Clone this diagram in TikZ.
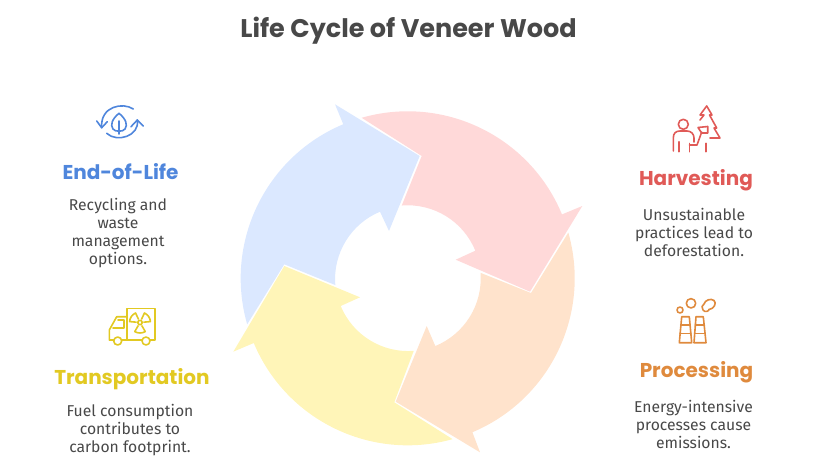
\documentclass[tikz,border=0pt]{standalone}
\usepackage{fontspec}
\usetikzlibrary{calc}
\setmainfont{Fira Sans}
\newfontfamily\headfont{Poppins}
\definecolor{cblue}{HTML}{4F86DC}
\definecolor{cred}{HTML}{E05A57}
\definecolor{corange}{HTML}{DF8A3D}
\definecolor{cyellow}{HTML}{E2C922}
\definecolor{fblue}{HTML}{DBE8FF}
\definecolor{fred}{HTML}{FFD9D9}
\definecolor{forange}{HTML}{FFE3CC}
\definecolor{fyellow}{HTML}{FFF5B8}
\definecolor{ctitle}{HTML}{484848}
\tikzset{
  headtext/.style={font=\headfont\fontsize{20}{24}\selectfont\bfseries,anchor=base,inner sep=0pt},
  desctext/.style={font=\fontsize{15.7}{18}\selectfont,text=ctitle,align=center,anchor=center,inner sep=0pt},
  titletext/.style={font=\headfont\fontsize{25.5}{30}\selectfont\bfseries,text=ctitle,anchor=base,inner sep=0pt},
  iconline/.style={line width=1.6pt,line cap=round,line join=round,fill=none},
}
\begin{document}
\begin{tikzpicture}[x=1pt,y=-1pt]
\useasboundingbox (0,0) rectangle (816,474);
\coordinate (c) at (407.7,278.3);
% arrows
\fill[fblue] (c) ++(196:167pt) arc[start angle=196,end angle=112.7,radius=167pt]
  -- (335,104.3) -- (419.7,156) -- (389,231) -- (380,211.7)
  arc[start angle=112.6,end angle=184.7,radius=73pt]
  -- (284.3,264.3) -- cycle;
\fill[fred] (c) ++(106:167pt) arc[start angle=106,end angle=22.5,radius=167pt]
  -- (582.3,206) -- (530,291.7) -- (455.7,259.7) -- (475.3,250.7)
  arc[start angle=22.2,end angle=94.7,radius=73pt]
  -- (421.7,156) -- cycle;
\fill[forange] (c) ++(15.9:167pt) arc[start angle=15.9,end angle=-67.2,radius=167pt]
  -- (480,452.3) -- (395.7,401.7) -- (426.7,326) -- (435.3,346)
  arc[start angle=-67.8,end angle=4.4,radius=73pt]
  -- (531,293) -- cycle;
\fill[fyellow] (c) ++(285.6:167pt) arc[start angle=285.6,end angle=202.8,radius=167pt]
  -- (233.3,351.7) -- (284.3,266) -- (360,297.3) -- (340.7,306)
  arc[start angle=202.5,end angle=274.4,radius=73pt]
  -- (394.3,402.3) -- cycle;
% text
\node[titletext] (title) at (408.5,37.5) {Life Cycle of Veneer Wood};
\node[headtext,text=cblue] (endh) at (120.5,179.5) {End-of-Life};
\node[desctext] (endd) at (118,233) {Recycling and\\waste\\management\\options.};
\node[headtext,text=cyellow] (trah) at (132,384) {Transportation};
\node[desctext] (trad) at (130,430.5) {Fuel consumption\\contributes to\\carbon footprint.};
\node[headtext,text=cred] (harh) at (696,185.5) {Harvesting};
\node[desctext] (hard) at (694,232) {Unsustainable\\practices lead to\\deforestation.};
\node[headtext,text=corange] (proh) at (696.5,377.5) {Processing};
\node[desctext] (prod) at (693.5,424) {Energy-intensive\\processes cause\\emissions.};
% recycle icon
\begin{scope}[iconline,draw=cblue]
\draw (133.3,109) .. controls (123,102) and (100,106) .. (101.7,127.7);
\draw (96.7,121) -- (101.7,127.7) -- (107.3,121.7);
\draw (106.7,133.3) .. controls (117,143) and (140,136) .. (137.3,120);
\draw (131,126.7) -- (137.3,120) -- (143.3,126);
\draw (119,113.3) .. controls (112,119) and (110,125) .. (113,129) .. controls (115,132) and (123,132) .. (125,129) .. controls (128,125) and (126,119) .. (119,113.3);
\draw (119,121) -- (119,134);
\end{scope}
% truck icon
\begin{scope}[iconline,draw=cyellow]
\draw (126.7,340) -- (126.7,308.3) -- (155,308.3) -- (155,340) -- (150,340);
\draw (142,340) -- (122,340);
\draw (114,340) -- (109.3,340) -- (109.3,330) -- (116.7,316.7) -- (126.7,316.7);
\draw (118,320) -- (124,320) -- (124,328) -- (113,328);
\draw (117.7,341) circle[radius=4pt];
\draw (146,341) circle[radius=4pt];
\coordinate (rad) at (140,322.5);
\draw (rad) circle[radius=2.2pt];
\draw ($(rad)+(5:3.8pt)$) -- ($(rad)+(5:10.5pt)$) arc[start angle=5,end angle=65,radius=10.5pt] -- ($(rad)+(65:3.8pt)$);
\draw ($(rad)+(115:3.8pt)$) -- ($(rad)+(115:10.5pt)$) arc[start angle=115,end angle=175,radius=10.5pt] -- ($(rad)+(175:3.8pt)$);
\draw ($(rad)+(240:3.8pt)$) -- ($(rad)+(240:10.5pt)$) arc[start angle=240,end angle=300,radius=10.5pt] -- ($(rad)+(300:3.8pt)$);
\end{scope}
% harvesting icon
\begin{scope}[iconline,draw=cred]
\draw (683.3,124.3) circle[radius=5pt];
\draw (673.3,151) -- (673.3,138) .. controls (673.3,133) and (676,131) .. (680,131) -- (687,131) .. controls (691,131) and (694,134) .. (694,138) -- (694,142);
\draw (679,141.7) -- (679,151.7);
\draw (689.3,143.5) -- (689.3,151.7);
\draw (689.3,145) -- (697,145) -- (701.7,132);
\draw (698,127.5) -- (707.7,126.5) -- (707.7,133) -- (701.7,133) -- cycle;
\draw (706,143.3) -- (706,151.7);
\draw (706.7,106) -- (700,115) -- (704,115) -- (700,120);
\draw (706.7,106) -- (712,115) -- (709.5,115) -- (716.7,128) -- (714,128) -- (720,138) -- (710,138);
\end{scope}
% processing icon
\begin{scope}[iconline,draw=corange]
\draw (680,310) circle[radius=3pt];
\draw (691,303.3) circle[radius=4.7pt];
\draw (703,310) .. controls (705,313) and (709,311) .. (709,309.5) .. controls (714,309) and (717,303) .. (714,300.5) .. controls (711,298) and (705,300) .. (704,304) .. controls (702,305) and (701,308) .. (703,310);
\draw (681.7,316.7) -- (689.3,316.7) -- (691.7,342.7) -- (679.3,342.7) -- cycle;
\draw (680.7,325) -- (690,325);
\draw (680,333.3) -- (691,333.3);
\draw (696,316.7) -- (703.3,316.7) -- (706,342.7) -- (694,342.7) -- cycle;
\draw (695.2,325) -- (704.2,325);
\draw (694.6,333.3) -- (705,333.3);
\end{scope}
\end{tikzpicture}
\end{document}
